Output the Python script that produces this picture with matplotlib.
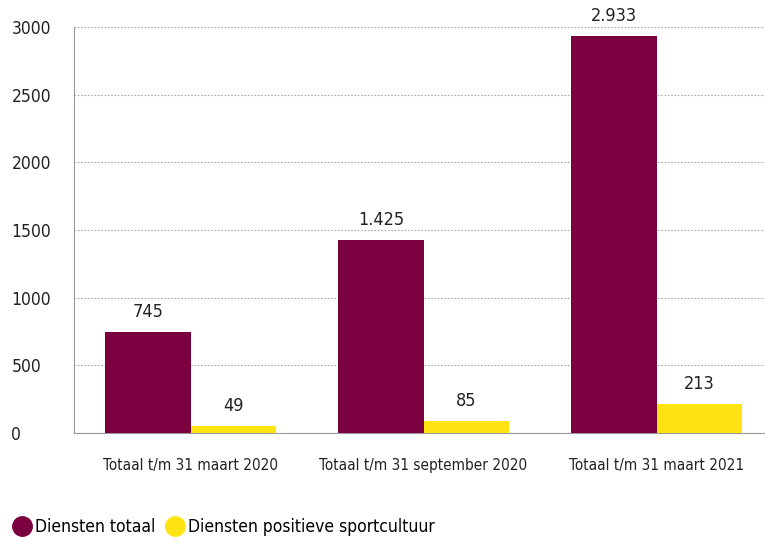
import matplotlib
matplotlib.use("Agg")
import matplotlib.pyplot as plt
from matplotlib.lines import Line2D
import numpy as np

categories = ["Totaal t/m 31 maart 2020", "Totaal t/m 31 september 2020", "Totaal t/m 31 maart 2021"]
series_names = ["Diensten totaal", "Diensten positieve sportcultuur"]
totaal = [745, 1425, 2933]
positief = [49, 85, 213]
yticks = [0, 500, 1000, 1500, 2000, 2500, 3000]

purple = "#7B003F"
yellow = "#FFE313"
plt.rcParams["font.family"] = ["DejaVu Sans"]
plt.rcParams["font.stretch"] = "condensed"

fig = plt.figure(figsize=(7.65, 5.37), dpi=100)
W, H = 765, 537
left, right, top, bottom = 74, 773, 27, 433
ax = fig.add_axes([left / W, 1 - bottom / H, (right - left) / W, (bottom - top) / H])

x = np.arange(len(categories))
bw = 0.366
b1 = ax.bar(x - bw / 2, totaal, bw, color=purple, zorder=3)
b2 = ax.bar(x + bw / 2, positief, bw, color=yellow, zorder=3)

def fmt(v):
    return f"{v:,}".replace(",", ".")

for bars, vals in ((b1, totaal), (b2, positief)):
    for r, v in zip(bars, vals):
        ax.annotate(fmt(v), (r.get_x() + r.get_width() / 2, v), xytext=(0, 8),
                    textcoords="offset points", ha="center", va="bottom",
                    fontsize=13, color="#222222", annotation_clip=False)

ax.set_xlim(-0.5, 2.5)
ax.set_ylim(0, 3000)
ax.set_yticks(yticks)
ax.set_yticklabels([str(t) for t in yticks], fontsize=12.5, color="#222222")
for lab in ax.get_yticklabels():
    lab.set_horizontalalignment("left")
ax.tick_params(axis="y", length=0, pad=45)
ax.set_xticks(x)
ax.set_xticklabels(categories, fontsize=11, color="#222222")
ax.tick_params(axis="x", length=0, pad=18)

ax.yaxis.grid(True, linestyle=(0, (1.5, 1.5)), color="#aaaaaa", linewidth=0.8, zorder=0)
for s in ("top", "right"):
    ax.spines[s].set_visible(False)
ax.spines["left"].set_color("#999999")
ax.spines["bottom"].set_color("#999999")
ax.spines["left"].set_zorder(4)

handles = [Line2D([], [], marker="o", linestyle="none", markersize=14, color=c)
           for c in (purple, yellow)]
fig.legend(handles, series_names, loc="center left", bbox_to_anchor=(0.0, 1 - 527 / H),
           frameon=False, ncol=2, fontsize=12.5, handletextpad=0.1, columnspacing=0.5,
           borderaxespad=0.2, handlelength=1.3)

fig.savefig("out.png", dpi=100)
